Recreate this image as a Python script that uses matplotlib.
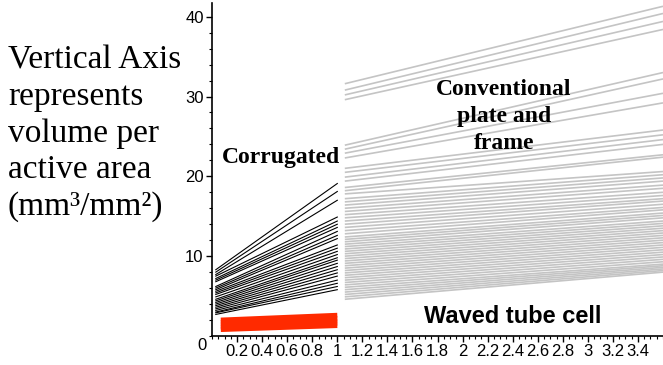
import matplotlib
matplotlib.use("Agg")
import matplotlib.pyplot as plt
from matplotlib.ticker import MultipleLocator, FixedLocator

# x span of each family of lines
CORR_X = [0.03, 1.0]
RED_X = [0.07, 1.0]
CONV_X = [1.06, 3.6]

# corrugated (black): value at start / end
CORR_START = [8.3, 8.0, 7.7, 7.5, 7.2, 7.0, 6.8, 6.2, 6.0, 5.8, 5.6, 5.4, 5.2,
              4.9, 4.6, 4.4, 4.2, 4.0, 3.8, 3.6, 3.4, 3.2, 3.0, 2.9, 2.7]
CORR_END = [19.1, 18.1, 17.0, 14.9, 14.4, 14.0, 13.6, 13.1, 12.6, 12.2, 11.4,
            11.0, 10.6, 10.2, 9.8, 9.5, 9.1, 8.7, 8.3, 7.9, 7.5, 7.0, 6.6, 6.2, 5.8]

# red band
RED_START = [0.8, 1.1, 1.4, 1.7, 2.0]
RED_END = [1.3, 1.6, 1.9, 2.2, 2.6]

# grey lines (conventional plate and frame / waved tube cell)
CONV_START = [31.6, 30.8, 30.2, 29.6,
              23.9, 23.4, 22.9, 22.3,
              21.0, 20.5, 19.9, 19.4,
              18.6, 18.2, 17.8, 17.2, 16.8, 16.4, 16.0, 15.6, 15.2, 14.8, 14.4,
              14.0, 13.6, 13.2, 12.8, 12.4, 12.1, 11.8, 11.5, 11.2, 10.9, 10.6,
              10.3, 10.0, 9.7, 9.4, 9.1, 8.8, 8.5, 8.2, 7.9, 7.6, 7.3, 7.0,
              6.7, 6.4, 6.1, 5.8, 5.5, 5.2, 4.9, 4.6]
CONV_END = [41.3, 40.4, 39.4, 38.4,
            33.0, 32.2, 30.4, 29.2,
            25.8, 25.2, 24.6, 24.0,
            22.7, 22.4, 20.6, 20.2, 19.8, 19.4, 18.9, 18.5, 18.0, 17.6, 17.2,
            16.9, 16.5, 16.1, 15.8, 15.4, 15.1, 14.8, 14.4, 14.1, 13.8, 13.5,
            13.2, 12.9, 12.6, 12.3, 12.0, 11.7, 11.4, 11.1, 10.8, 10.5, 10.2,
            9.9, 9.6, 9.3, 9.0, 8.8, 8.6, 8.4, 8.2, 8.0]

XTICKS = [0.2, 0.4, 0.6, 0.8, 1, 1.2, 1.4, 1.6, 1.8, 2, 2.2, 2.4, 2.6, 2.8, 3, 3.2, 3.4]
XTICK_LABELS = ["0.2", "0.4", "0.6", "0.8", "1", "1.2", "1.4", "1.6", "1.8", "2",
                "2.2", "2.4", "2.6", "2.8", "3", "3.2", "3.4"]
YTICKS = [10, 20, 30, 40]

fig = plt.figure(figsize=(6.63, 3.65), dpi=100)
ax = fig.add_axes([0.3198, 0.0795, 0.6802, 0.912])

for a, b in zip(CONV_START, CONV_END):
    ax.plot(CONV_X, [a, b], color="#c4c4c4", lw=1.2, solid_capstyle="butt")
for a, b in zip(CORR_START, CORR_END):
    ax.plot(CORR_X, [a, b], color="black", lw=0.8)
for a, b in zip(RED_START, RED_END):
    ax.plot(RED_X, [a, b], color="#ff2a00", lw=3.5, solid_capstyle="butt")

ax.set_xlim(0, 3.6)
ax.set_ylim(0, 41.7)
for s in ["top", "right"]:
    ax.spines[s].set_visible(False)
ax.spines["left"].set_linewidth(1.2)
ax.spines["bottom"].set_linewidth(1.2)

ax.xaxis.set_major_locator(FixedLocator(XTICKS))
ax.set_xticklabels(XTICK_LABELS)
ax.xaxis.set_minor_locator(MultipleLocator(0.05))
ax.yaxis.set_major_locator(FixedLocator(YTICKS))
ax.yaxis.set_minor_locator(MultipleLocator(2))
ax.tick_params(axis="both", which="major", length=4, width=1, labelsize=12, pad=2)
ax.tick_params(axis="both", which="minor", length=2.5, width=0.8)
for lab in ax.get_xticklabels() + ax.get_yticklabels():
    lab.set_fontfamily("Liberation Sans")
ax.annotate("0", (0, 0), xytext=(-7, -7), textcoords="offset points",
            ha="center", va="center", fontsize=12, family="Liberation Sans")

ax.text(0.55, 22.3, "Corrugated", ha="center", va="center", fontsize=17,
        fontweight="bold", family="Liberation Serif")
ax.text(2.33, 27.5, "Conventional\nplate and\nframe", ha="center", va="center",
        fontsize=17, fontweight="bold", family="Liberation Serif", linespacing=1.4)
ax.text(2.4, 2.4, "Waved tube cell", ha="center", va="center", fontsize=17,
        fontweight="bold", family="Liberation Sans")

fig.text(0.012, 0.634, "Vertical Axis\nrepresents\nvolume per\nactive area\n(mm³/mm²)",
         ha="left", va="center", fontsize=24, family="Liberation Serif",
         linespacing=1.25,
         bbox=dict(facecolor="white", edgecolor="none", pad=0))

fig.savefig("out.png", dpi=100)
